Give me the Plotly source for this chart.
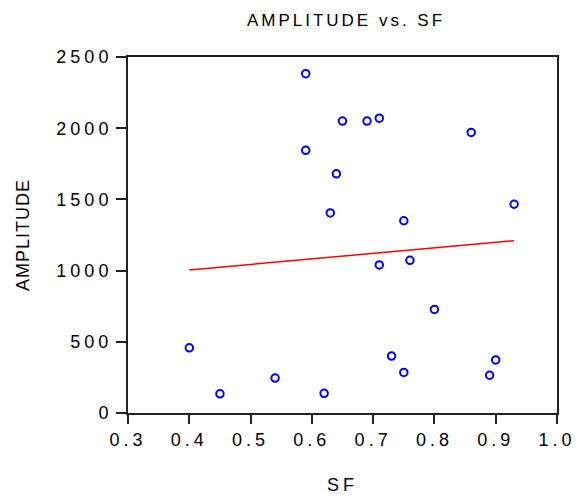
import plotly.graph_objects as go

sf = [0.40, 0.45, 0.54, 0.59, 0.59, 0.62, 0.63, 0.64, 0.65, 0.69, 0.71,
      0.71, 0.73, 0.75, 0.75, 0.76, 0.80, 0.86, 0.89, 0.90, 0.93]
amplitude = [458, 135, 245, 2383, 1845, 138, 1405, 1680, 2050, 2050, 2070,
             1040, 400, 1350, 285, 1072, 727, 1970, 265, 373, 1466]

fit_x = [0.40, 0.93]
fit_y = [1005, 1210]

x_ticks = [0.3, 0.4, 0.5, 0.6, 0.7, 0.8, 0.9, 1.0]
y_ticks = [0, 500, 1000, 1500, 2000, 2500]

FONT = "Liberation Sans, Arial, sans-serif"
W, H = 582, 504

fig = go.Figure()
fig.add_trace(go.Scatter(
    x=sf, y=amplitude, mode="markers",
    marker=dict(symbol="circle-open", size=7.5, color="#0000ff",
                line=dict(width=2, color="#0000ff")),
    showlegend=False, cliponaxis=False))
fig.add_trace(go.Scatter(
    x=fit_x, y=fit_y, mode="lines",
    line=dict(color="#ff0000", width=1.5),
    showlegend=False))

fig.update_layout(
    width=W, height=H,
    margin=dict(l=128, r=15, t=57, b=82),
    paper_bgcolor="white", plot_bgcolor="white",
    font=dict(family=FONT, color="#000000"),
    title=dict(text="AMPLITUDE vs. SF", xref="container", x=346 / W,
               xanchor="center", yref="container", y=1 - 20 / H,
               yanchor="middle",
               font=dict(size=17, family=FONT, color="#000000")),
)
fig.update_xaxes(
    range=[0.3, 1.0], tickvals=x_ticks,
    ticktext=[f"{v:.1f}" for v in x_ticks],
    ticks="outside", ticklen=9, tickwidth=2, tickcolor="#222",
    showline=True, linewidth=2, linecolor="#222", mirror=True,
    showgrid=False, zeroline=False,
    tickfont=dict(size=18, family=FONT),
    title=dict(text="SF", standoff=30, font=dict(size=18, family=FONT)),
)
fig.update_yaxes(
    range=[0, 2500], tickvals=y_ticks,
    ticks="outside", ticklen=10, tickwidth=2, tickcolor="#222",
    showline=True, linewidth=2, linecolor="#222", mirror=True,
    showgrid=False, zeroline=False,
    tickfont=dict(size=18, family=FONT),
    title=dict(text="AMPLITUDE", standoff=38, font=dict(size=18, family=FONT)),
)

post = """
document.body.style.margin = '0';
document.documentElement.style.overflow = 'hidden';
var gd = document.getElementById('{plot_id}');
function spacing(){
  gd.querySelectorAll('.xtick text, .ytick text').forEach(function(t){ t.style.letterSpacing='4px'; });
  gd.querySelectorAll('.gtitle').forEach(function(t){ t.style.letterSpacing='3px'; });
  gd.querySelectorAll('.xtitle').forEach(function(t){ t.style.letterSpacing='4px'; });
  gd.querySelectorAll('.ytitle').forEach(function(t){ t.style.letterSpacing='1px'; });
}
spacing();
gd.on('plotly_afterplot', spacing);
"""

fig.write_html("out.html", post_script=post, config={"displayModeBar": False})
